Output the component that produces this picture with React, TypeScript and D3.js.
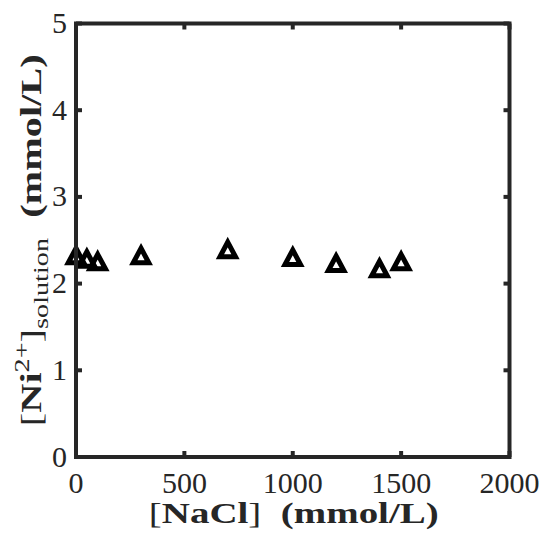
import React, { useRef, useLayoutEffect } from "react";
import * as d3 from "d3";

// NaCl concentration (mmol/L) and dissolved Ni2+ (mmol/L)
const nacl = [0, 50, 100, 300, 700, 1000, 1200, 1400, 1500];
const niSolution = [2.33, 2.29, 2.26, 2.33, 2.4, 2.31, 2.24, 2.18, 2.26];
const xTicks = [0, 500, 1000, 1500, 2000];
const yTicks = [0, 1, 2, 3, 4, 5];

const W = 549;
const H = 550;
const ink = "#262626";
const serif = "Liberation Serif, serif";

export default function App() {
  const xLabRef = useRef<SVGTextElement>(null);
  const yLabRef = useRef<SVGTextElement>(null);

  const x = d3.scaleLinear().domain([0, 2000]).range([76, 509.5]);
  const y = d3.scaleLinear().domain([0, 5]).range([457, 23.5]);

  const [x0, x1] = x.range();
  const [y0, y1] = y.range();
  const tickLen = 6;

  // stretch the labels horizontally to the reference's wide TeX look
  useLayoutEffect(() => {
    const fit = (el: SVGTextElement | null, target: number) => {
      if (!el) return;
      const w = el.getBBox().width;
      if (w > 0) d3.select(el).attr("transform", `scale(${target / w},1)`);
    };
    fit(xLabRef.current, 290);
    fit(yLabRef.current, 372);
  }, []);

  // triangle marker, centered on its bounding box
  const half = 7.75;
  const th = 14.5;
  const tri =
    d3.line()([
      [0, -th / 2],
      [half, th / 2],
      [-half, th / 2],
    ]) + "Z";

  return (
    <svg
      width={W}
      height={H}
      style={{ position: "absolute", left: 0, top: 0, background: "#fff" }}
    >
      {/* markers */}
      <g>
        {nacl.map((d, i) => (
          <path
            key={i}
            d={tri}
            transform={`translate(${x(d)},${y(niSolution[i]) + 0.5})`}
            fill="none"
            stroke="#000"
            strokeWidth={5}
            strokeLinejoin="miter"
          />
        ))}
      </g>

      {/* box and inward ticks on all sides */}
      <g stroke={ink} strokeWidth={4}>
        {xTicks.map((t) => (
          <g key={"x" + t}>
            <line x1={x(t)} x2={x(t)} y1={y0} y2={y0 - tickLen} />
            <line x1={x(t)} x2={x(t)} y1={y1} y2={y1 + tickLen} />
          </g>
        ))}
        {yTicks.map((t) => (
          <g key={"y" + t}>
            <line x1={x0} x2={x0 + tickLen} y1={y(t)} y2={y(t)} />
            <line x1={x1} x2={x1 - tickLen} y1={y(t)} y2={y(t)} />
          </g>
        ))}
        <rect
          x={x0}
          y={y1}
          width={x1 - x0}
          height={y0 - y1}
          fill="none"
          strokeLinejoin="miter"
        />
      </g>

      {/* tick labels */}
      <g fontFamily={serif} fontSize={30} fill={ink}>
        {xTicks.map((t) => (
          <text key={"xl" + t} x={x(t)} y={492.5} textAnchor="middle">
            {t}
          </text>
        ))}
        {yTicks.map((t) => (
          <text key={"yl" + t} x={67} y={y(t) + 9.5} textAnchor="end">
            {t}
          </text>
        ))}
      </g>

      {/* x axis label */}
      <g transform={`translate(${(x0 + x1) / 2 + 1},523)`}>
        <text
          ref={xLabRef}
          textAnchor="middle"
          fontFamily={serif}
          fontSize={30}
          fill={ink}
        >
          <tspan>[</tspan>
          <tspan fontWeight="bold">NaCl</tspan>
          <tspan>]</tspan>
          <tspan fontWeight="bold">{"\u00a0\u00a0(mmol/L)"}</tspan>
        </text>
      </g>

      {/* y axis label */}
      <g transform={`translate(41,${(y0 + y1) / 2}) rotate(-90)`}>
        <text
          ref={yLabRef}
          textAnchor="middle"
          fontFamily={serif}
          fontSize={30}
          fill={ink}
        >
          <tspan>[</tspan>
          <tspan fontWeight="bold">Ni</tspan>
          <tspan fontSize={21} dy={-12}>
            2+
          </tspan>
          <tspan dy={12}>]</tspan>
          <tspan fontSize={21} dy={7}>
            solution
          </tspan>
          <tspan fontWeight="bold" dy={-7}>
            {"\u00a0\u00a0(mmol/L)"}
          </tspan>
        </text>
      </g>
    </svg>
  );
}
